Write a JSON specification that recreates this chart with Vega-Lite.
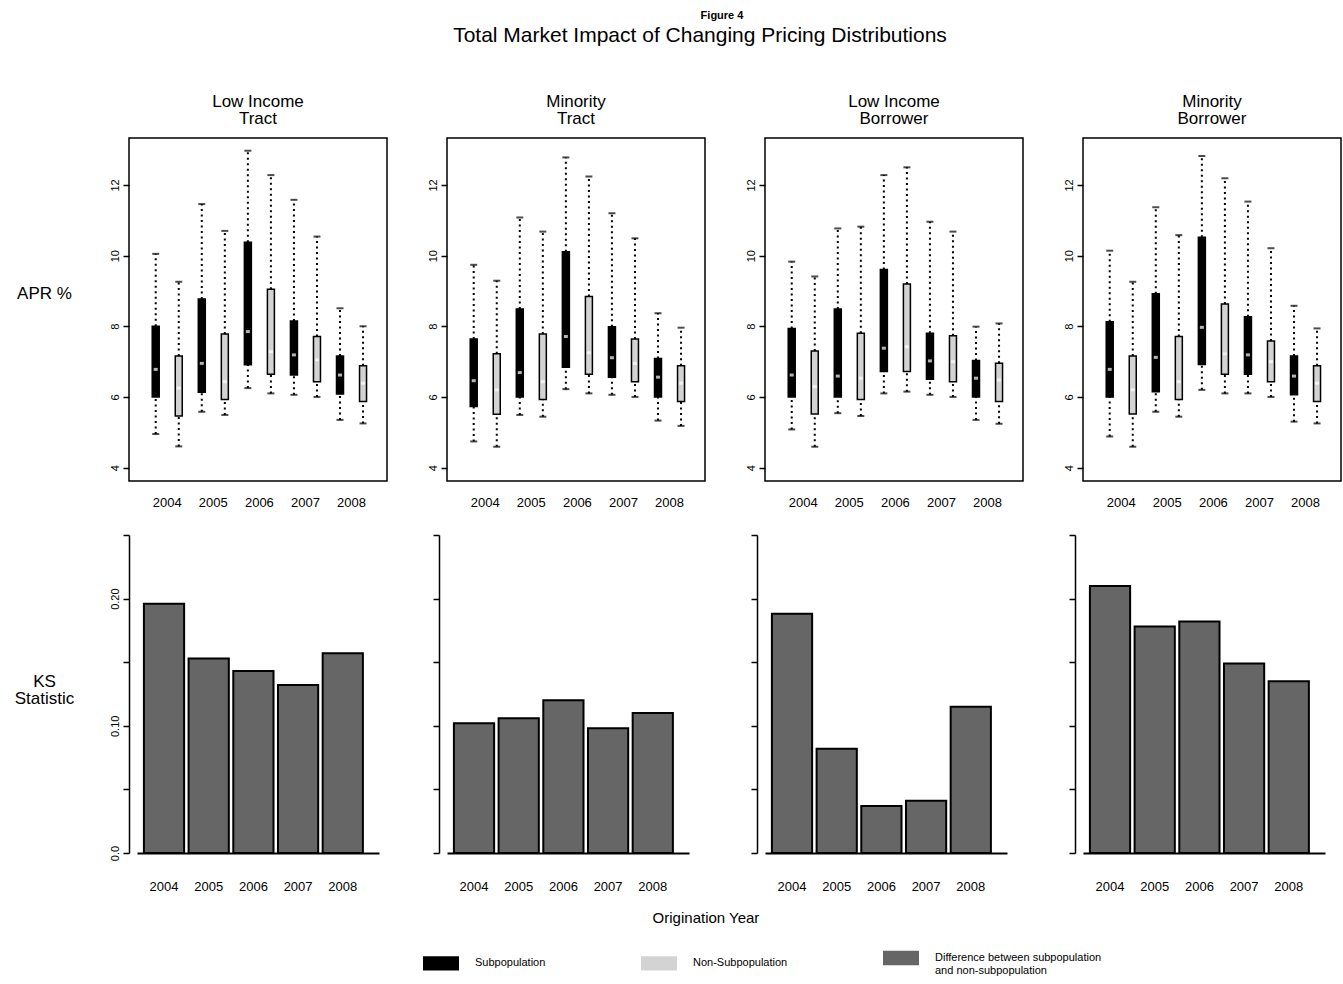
{
  "$schema": "https://vega.github.io/schema/vega-lite/v6.json",
  "autosize": {"type": "pad"},
  "padding": {"left": 14, "top": 10, "right": 2, "bottom": 2},
  "config": {
    "font": "Liberation Sans",
    "view": {"stroke": null},
    "axis": {"grid": false, "labelColor": "black", "titleColor": "black", "tickColor": "black", "domainColor": "black", "labelFont": "Liberation Sans", "titleFont": "Liberation Sans"},
    "title": {"color": "black", "font": "Liberation Sans", "fontWeight": "normal"},
    "legend": {"labelColor": "black", "labelFont": "Liberation Sans"}
  },
  "datasets": {
    "boxes": [
      {"panel": "Low Income Tract", "year": "2004", "group": "Subpopulation", "lower": 4.95, "q1": 6.0, "median": 6.78, "q3": 8.0, "upper": 10.05},
      {"panel": "Low Income Tract", "year": "2004", "group": "Non-Subpopulation", "lower": 4.6, "q1": 5.46, "median": 6.25, "q3": 7.16, "upper": 9.26},
      {"panel": "Low Income Tract", "year": "2005", "group": "Subpopulation", "lower": 5.58, "q1": 6.13, "median": 6.95, "q3": 8.77, "upper": 11.46},
      {"panel": "Low Income Tract", "year": "2005", "group": "Non-Subpopulation", "lower": 5.49, "q1": 5.93, "median": 6.43, "q3": 7.78, "upper": 10.7},
      {"panel": "Low Income Tract", "year": "2006", "group": "Subpopulation", "lower": 6.25, "q1": 6.91, "median": 7.85, "q3": 10.38, "upper": 12.97},
      {"panel": "Low Income Tract", "year": "2006", "group": "Non-Subpopulation", "lower": 6.1, "q1": 6.64, "median": 7.28, "q3": 9.05, "upper": 12.28},
      {"panel": "Low Income Tract", "year": "2007", "group": "Subpopulation", "lower": 6.06, "q1": 6.62, "median": 7.19, "q3": 8.15, "upper": 11.58},
      {"panel": "Low Income Tract", "year": "2007", "group": "Non-Subpopulation", "lower": 6.0, "q1": 6.43, "median": 7.05, "q3": 7.71, "upper": 10.54},
      {"panel": "Low Income Tract", "year": "2008", "group": "Subpopulation", "lower": 5.35, "q1": 6.08, "median": 6.62, "q3": 7.16, "upper": 8.51},
      {"panel": "Low Income Tract", "year": "2008", "group": "Non-Subpopulation", "lower": 5.25, "q1": 5.87, "median": 6.39, "q3": 6.88, "upper": 8.0},
      {"panel": "Minority Tract", "year": "2004", "group": "Subpopulation", "lower": 4.74, "q1": 5.73, "median": 6.46, "q3": 7.64, "upper": 9.74},
      {"panel": "Minority Tract", "year": "2004", "group": "Non-Subpopulation", "lower": 4.59, "q1": 5.51, "median": 6.2, "q3": 7.22, "upper": 9.29},
      {"panel": "Minority Tract", "year": "2005", "group": "Subpopulation", "lower": 5.49, "q1": 6.0, "median": 6.69, "q3": 8.49, "upper": 11.08},
      {"panel": "Minority Tract", "year": "2005", "group": "Non-Subpopulation", "lower": 5.44, "q1": 5.93, "median": 6.43, "q3": 7.78, "upper": 10.68},
      {"panel": "Minority Tract", "year": "2006", "group": "Subpopulation", "lower": 6.22, "q1": 6.84, "median": 7.71, "q3": 10.11, "upper": 12.78},
      {"panel": "Minority Tract", "year": "2006", "group": "Non-Subpopulation", "lower": 6.1, "q1": 6.64, "median": 7.25, "q3": 8.84, "upper": 12.24},
      {"panel": "Minority Tract", "year": "2007", "group": "Subpopulation", "lower": 6.06, "q1": 6.56, "median": 7.11, "q3": 7.99, "upper": 11.2},
      {"panel": "Minority Tract", "year": "2007", "group": "Non-Subpopulation", "lower": 6.0, "q1": 6.43, "median": 6.95, "q3": 7.64, "upper": 10.49},
      {"panel": "Minority Tract", "year": "2008", "group": "Subpopulation", "lower": 5.33, "q1": 6.0, "median": 6.56, "q3": 7.09, "upper": 8.37},
      {"panel": "Minority Tract", "year": "2008", "group": "Non-Subpopulation", "lower": 5.18, "q1": 5.87, "median": 6.39, "q3": 6.88, "upper": 7.96},
      {"panel": "Low Income Borrower", "year": "2004", "group": "Subpopulation", "lower": 5.08, "q1": 6.0, "median": 6.62, "q3": 7.94, "upper": 9.83},
      {"panel": "Low Income Borrower", "year": "2004", "group": "Non-Subpopulation", "lower": 4.59, "q1": 5.52, "median": 6.29, "q3": 7.3, "upper": 9.41},
      {"panel": "Low Income Borrower", "year": "2005", "group": "Subpopulation", "lower": 5.54, "q1": 6.0, "median": 6.59, "q3": 8.49, "upper": 10.77},
      {"panel": "Low Income Borrower", "year": "2005", "group": "Non-Subpopulation", "lower": 5.46, "q1": 5.93, "median": 6.53, "q3": 7.8, "upper": 10.82},
      {"panel": "Low Income Borrower", "year": "2006", "group": "Subpopulation", "lower": 6.1, "q1": 6.72, "median": 7.38, "q3": 9.61, "upper": 12.28},
      {"panel": "Low Income Borrower", "year": "2006", "group": "Non-Subpopulation", "lower": 6.15, "q1": 6.72, "median": 7.42, "q3": 9.2, "upper": 12.5},
      {"panel": "Low Income Borrower", "year": "2007", "group": "Subpopulation", "lower": 6.06, "q1": 6.5, "median": 7.02, "q3": 7.8, "upper": 10.96},
      {"panel": "Low Income Borrower", "year": "2007", "group": "Non-Subpopulation", "lower": 6.0, "q1": 6.43, "median": 7.0, "q3": 7.73, "upper": 10.68},
      {"panel": "Low Income Borrower", "year": "2008", "group": "Subpopulation", "lower": 5.35, "q1": 6.0, "median": 6.53, "q3": 7.03, "upper": 7.99},
      {"panel": "Low Income Borrower", "year": "2008", "group": "Non-Subpopulation", "lower": 5.24, "q1": 5.87, "median": 6.48, "q3": 6.95, "upper": 8.08},
      {"panel": "Minority Borrower", "year": "2004", "group": "Subpopulation", "lower": 4.88, "q1": 6.0, "median": 6.78, "q3": 8.13, "upper": 10.14},
      {"panel": "Minority Borrower", "year": "2004", "group": "Non-Subpopulation", "lower": 4.59, "q1": 5.52, "median": 6.2, "q3": 7.16, "upper": 9.26},
      {"panel": "Minority Borrower", "year": "2005", "group": "Subpopulation", "lower": 5.58, "q1": 6.15, "median": 7.12, "q3": 8.92, "upper": 11.37},
      {"panel": "Minority Borrower", "year": "2005", "group": "Non-Subpopulation", "lower": 5.44, "q1": 5.93, "median": 6.43, "q3": 7.71, "upper": 10.58},
      {"panel": "Minority Borrower", "year": "2006", "group": "Subpopulation", "lower": 6.2, "q1": 6.92, "median": 7.97, "q3": 10.52, "upper": 12.82},
      {"panel": "Minority Borrower", "year": "2006", "group": "Non-Subpopulation", "lower": 6.1, "q1": 6.64, "median": 7.22, "q3": 8.63, "upper": 12.19},
      {"panel": "Minority Borrower", "year": "2007", "group": "Subpopulation", "lower": 6.1, "q1": 6.64, "median": 7.19, "q3": 8.27, "upper": 11.53},
      {"panel": "Minority Borrower", "year": "2007", "group": "Non-Subpopulation", "lower": 6.0, "q1": 6.43, "median": 7.0, "q3": 7.58, "upper": 10.21},
      {"panel": "Minority Borrower", "year": "2008", "group": "Subpopulation", "lower": 5.3, "q1": 6.06, "median": 6.59, "q3": 7.16, "upper": 8.58},
      {"panel": "Minority Borrower", "year": "2008", "group": "Non-Subpopulation", "lower": 5.25, "q1": 5.87, "median": 6.39, "q3": 6.88, "upper": 7.94}
    ],
    "ks": [
      {"panel": "Low Income Tract", "year": "2004", "group": "Difference between subpopulation and non-subpopulation", "ks": 0.196},
      {"panel": "Low Income Tract", "year": "2005", "group": "Difference between subpopulation and non-subpopulation", "ks": 0.153},
      {"panel": "Low Income Tract", "year": "2006", "group": "Difference between subpopulation and non-subpopulation", "ks": 0.143},
      {"panel": "Low Income Tract", "year": "2007", "group": "Difference between subpopulation and non-subpopulation", "ks": 0.132},
      {"panel": "Low Income Tract", "year": "2008", "group": "Difference between subpopulation and non-subpopulation", "ks": 0.157},
      {"panel": "Minority Tract", "year": "2004", "group": "Difference between subpopulation and non-subpopulation", "ks": 0.102},
      {"panel": "Minority Tract", "year": "2005", "group": "Difference between subpopulation and non-subpopulation", "ks": 0.106},
      {"panel": "Minority Tract", "year": "2006", "group": "Difference between subpopulation and non-subpopulation", "ks": 0.120},
      {"panel": "Minority Tract", "year": "2007", "group": "Difference between subpopulation and non-subpopulation", "ks": 0.098},
      {"panel": "Minority Tract", "year": "2008", "group": "Difference between subpopulation and non-subpopulation", "ks": 0.110},
      {"panel": "Low Income Borrower", "year": "2004", "group": "Difference between subpopulation and non-subpopulation", "ks": 0.188},
      {"panel": "Low Income Borrower", "year": "2005", "group": "Difference between subpopulation and non-subpopulation", "ks": 0.082},
      {"panel": "Low Income Borrower", "year": "2006", "group": "Difference between subpopulation and non-subpopulation", "ks": 0.037},
      {"panel": "Low Income Borrower", "year": "2007", "group": "Difference between subpopulation and non-subpopulation", "ks": 0.041},
      {"panel": "Low Income Borrower", "year": "2008", "group": "Difference between subpopulation and non-subpopulation", "ks": 0.115},
      {"panel": "Minority Borrower", "year": "2004", "group": "Difference between subpopulation and non-subpopulation", "ks": 0.210},
      {"panel": "Minority Borrower", "year": "2005", "group": "Difference between subpopulation and non-subpopulation", "ks": 0.178},
      {"panel": "Minority Borrower", "year": "2006", "group": "Difference between subpopulation and non-subpopulation", "ks": 0.182},
      {"panel": "Minority Borrower", "year": "2007", "group": "Difference between subpopulation and non-subpopulation", "ks": 0.149},
      {"panel": "Minority Borrower", "year": "2008", "group": "Difference between subpopulation and non-subpopulation", "ks": 0.135}
    ]
  },
  "title": {"text": "Figure 4", "fontSize": 11, "fontWeight": "bold", "anchor": "middle", "offset": 4, "dx": 44},
  "vconcat": [
    {
      "title": {"text": "Total Market Impact of Changing Pricing Distributions", "fontSize": 21, "anchor": "middle", "offset": 46, "dx": 22},
      "vconcat": [
        {
          "title": {"text": "Origination Year", "orient": "bottom", "fontSize": 15, "anchor": "middle", "offset": 18, "dx": 28},
          "columns": 4,
          "spacing": {"row": 54, "column": 60},
          "bounds": "flush",
          "center": true,
          "concat": [
            {
              "width": 258, "height": 343,
              "view": {"stroke": "black", "strokeWidth": 1.5},
              "title": {"text": ["Low Income", "Tract"], "fontSize": 17, "lineHeight": 17, "offset": 10, "anchor": "middle"},
              "data": {"name": "boxes"},
              "transform": [{"filter": {"field": "panel", "equal": "Low Income Tract"}}],
              "encoding": {
                "x": {"field": "year", "type": "nominal", "title": null, "scale": {"paddingInner": 0, "paddingOuter": 0.3, "align": 0.55}, "axis": {"ticks": false, "tickSize": 0, "domain": false, "labelAngle": 0, "labelPadding": 15, "labelFontSize": 13, "labelBaseline": "top"}},
                "xOffset": {"field": "group", "type": "nominal", "scale": {"domain": ["Subpopulation", "Non-Subpopulation"], "paddingInner": 0, "paddingOuter": 0}}
              },
              "layer": [
                {"mark": {"type": "rule", "color": "black", "strokeWidth": 2, "strokeDash": [2, 3.5]}, "encoding": {"y": {"field": "lower", "type": "quantitative", "title": "APR %", "scale": {"domain": [3.62, 13.33], "nice": false, "zero": false}, "axis": {"values": [4, 6, 8, 10, 12], "labelAngle": -90, "labelAlign": "center", "labelBaseline": "bottom", "labelFontSize": 11, "labelPadding": 3, "domain": false, "tickSize": 6, "tickWidth": 1.5, "titleAngle": 0, "titleX": -85, "titleY": 155, "titleAlign": "center", "titleBaseline": "middle", "titleFontSize": 17, "titleFontWeight": "normal"}}, "y2": {"field": "q1"}}},
                {"mark": {"type": "rule", "color": "black", "strokeWidth": 2, "strokeDash": [2, 3.5]}, "encoding": {"y": {"field": "q3", "type": "quantitative", "title": "APR %", "scale": {"domain": [3.62, 13.33], "nice": false, "zero": false}}, "y2": {"field": "upper"}}},
                {"mark": {"type": "tick", "color": "black", "size": 7, "thickness": 2}, "encoding": {"y": {"field": "lower", "type": "quantitative", "title": "APR %", "scale": {"domain": [3.62, 13.33], "nice": false, "zero": false}}}},
                {"mark": {"type": "tick", "color": "black", "size": 7, "thickness": 2}, "encoding": {"y": {"field": "upper", "type": "quantitative", "title": "APR %", "scale": {"domain": [3.62, 13.33], "nice": false, "zero": false}}}},
                {"mark": {"type": "bar", "width": 7, "stroke": "black", "strokeWidth": 1.5}, "encoding": {"y": {"field": "q1", "type": "quantitative", "title": "APR %", "scale": {"domain": [3.62, 13.33], "nice": false, "zero": false}}, "y2": {"field": "q3"}, "color": {"field": "group", "type": "nominal", "scale": {"domain": ["Subpopulation", "Non-Subpopulation", "Difference between subpopulation and non-subpopulation"], "range": ["#000000", "#d3d3d3", "#666666"]}, "legend": {"orient": "none", "legendX": 294, "legendY": 802, "direction": "horizontal", "title": null, "symbolType": "M-1,-0.4L1,-0.4L1,0.4L-1,0.4Z", "symbolSize": 1296, "symbolStrokeWidth": 0, "symbolOpacity": 1, "labelFontSize": 11, "labelOffset": 16, "columnPadding": 95, "labelLimit": 400, "labelExpr": "datum.label == 'Difference between subpopulation and non-subpopulation' ? ['Difference between subpopulation', 'and non-subpopulation'] : datum.label"}}}},
                {"mark": {"type": "tick", "color": "white", "size": 4, "thickness": 3}, "encoding": {"y": {"field": "median", "type": "quantitative", "title": "APR %", "scale": {"domain": [3.62, 13.33], "nice": false, "zero": false}}}}
              ]
            },
            {
              "width": 258, "height": 343,
              "view": {"stroke": "black", "strokeWidth": 1.5},
              "title": {"text": ["Minority", "Tract"], "fontSize": 17, "lineHeight": 17, "offset": 10, "anchor": "middle"},
              "data": {"name": "boxes"},
              "transform": [{"filter": {"field": "panel", "equal": "Minority Tract"}}],
              "encoding": {
                "x": {"field": "year", "type": "nominal", "title": null, "scale": {"paddingInner": 0, "paddingOuter": 0.3, "align": 0.55}, "axis": {"ticks": false, "tickSize": 0, "domain": false, "labelAngle": 0, "labelPadding": 15, "labelFontSize": 13, "labelBaseline": "top"}},
                "xOffset": {"field": "group", "type": "nominal", "scale": {"domain": ["Subpopulation", "Non-Subpopulation"], "paddingInner": 0, "paddingOuter": 0}}
              },
              "layer": [
                {"mark": {"type": "rule", "color": "black", "strokeWidth": 2, "strokeDash": [2, 3.5]}, "encoding": {"y": {"field": "lower", "type": "quantitative", "title": null, "scale": {"domain": [3.62, 13.33], "nice": false, "zero": false}, "axis": {"values": [4, 6, 8, 10, 12], "labelAngle": -90, "labelAlign": "center", "labelBaseline": "bottom", "labelFontSize": 11, "labelPadding": 3, "domain": false, "tickSize": 6, "tickWidth": 1.5}}, "y2": {"field": "q1"}}},
                {"mark": {"type": "rule", "color": "black", "strokeWidth": 2, "strokeDash": [2, 3.5]}, "encoding": {"y": {"field": "q3", "type": "quantitative", "title": null, "scale": {"domain": [3.62, 13.33], "nice": false, "zero": false}}, "y2": {"field": "upper"}}},
                {"mark": {"type": "tick", "color": "black", "size": 7, "thickness": 2}, "encoding": {"y": {"field": "lower", "type": "quantitative", "title": null, "scale": {"domain": [3.62, 13.33], "nice": false, "zero": false}}}},
                {"mark": {"type": "tick", "color": "black", "size": 7, "thickness": 2}, "encoding": {"y": {"field": "upper", "type": "quantitative", "title": null, "scale": {"domain": [3.62, 13.33], "nice": false, "zero": false}}}},
                {"mark": {"type": "bar", "width": 7, "stroke": "black", "strokeWidth": 1.5}, "encoding": {"y": {"field": "q1", "type": "quantitative", "title": null, "scale": {"domain": [3.62, 13.33], "nice": false, "zero": false}}, "y2": {"field": "q3"}, "color": {"field": "group", "type": "nominal", "scale": {"domain": ["Subpopulation", "Non-Subpopulation", "Difference between subpopulation and non-subpopulation"], "range": ["#000000", "#d3d3d3", "#666666"]}}}},
                {"mark": {"type": "tick", "color": "white", "size": 4, "thickness": 3}, "encoding": {"y": {"field": "median", "type": "quantitative", "title": null, "scale": {"domain": [3.62, 13.33], "nice": false, "zero": false}}}}
              ]
            },
            {
              "width": 258, "height": 343,
              "view": {"stroke": "black", "strokeWidth": 1.5},
              "title": {"text": ["Low Income", "Borrower"], "fontSize": 17, "lineHeight": 17, "offset": 10, "anchor": "middle"},
              "data": {"name": "boxes"},
              "transform": [{"filter": {"field": "panel", "equal": "Low Income Borrower"}}],
              "encoding": {
                "x": {"field": "year", "type": "nominal", "title": null, "scale": {"paddingInner": 0, "paddingOuter": 0.3, "align": 0.55}, "axis": {"ticks": false, "tickSize": 0, "domain": false, "labelAngle": 0, "labelPadding": 15, "labelFontSize": 13, "labelBaseline": "top"}},
                "xOffset": {"field": "group", "type": "nominal", "scale": {"domain": ["Subpopulation", "Non-Subpopulation"], "paddingInner": 0, "paddingOuter": 0}}
              },
              "layer": [
                {"mark": {"type": "rule", "color": "black", "strokeWidth": 2, "strokeDash": [2, 3.5]}, "encoding": {"y": {"field": "lower", "type": "quantitative", "title": null, "scale": {"domain": [3.62, 13.33], "nice": false, "zero": false}, "axis": {"values": [4, 6, 8, 10, 12], "labelAngle": -90, "labelAlign": "center", "labelBaseline": "bottom", "labelFontSize": 11, "labelPadding": 3, "domain": false, "tickSize": 6, "tickWidth": 1.5}}, "y2": {"field": "q1"}}},
                {"mark": {"type": "rule", "color": "black", "strokeWidth": 2, "strokeDash": [2, 3.5]}, "encoding": {"y": {"field": "q3", "type": "quantitative", "title": null, "scale": {"domain": [3.62, 13.33], "nice": false, "zero": false}}, "y2": {"field": "upper"}}},
                {"mark": {"type": "tick", "color": "black", "size": 7, "thickness": 2}, "encoding": {"y": {"field": "lower", "type": "quantitative", "title": null, "scale": {"domain": [3.62, 13.33], "nice": false, "zero": false}}}},
                {"mark": {"type": "tick", "color": "black", "size": 7, "thickness": 2}, "encoding": {"y": {"field": "upper", "type": "quantitative", "title": null, "scale": {"domain": [3.62, 13.33], "nice": false, "zero": false}}}},
                {"mark": {"type": "bar", "width": 7, "stroke": "black", "strokeWidth": 1.5}, "encoding": {"y": {"field": "q1", "type": "quantitative", "title": null, "scale": {"domain": [3.62, 13.33], "nice": false, "zero": false}}, "y2": {"field": "q3"}, "color": {"field": "group", "type": "nominal", "scale": {"domain": ["Subpopulation", "Non-Subpopulation", "Difference between subpopulation and non-subpopulation"], "range": ["#000000", "#d3d3d3", "#666666"]}}}},
                {"mark": {"type": "tick", "color": "white", "size": 4, "thickness": 3}, "encoding": {"y": {"field": "median", "type": "quantitative", "title": null, "scale": {"domain": [3.62, 13.33], "nice": false, "zero": false}}}}
              ]
            },
            {
              "width": 258, "height": 343,
              "view": {"stroke": "black", "strokeWidth": 1.5},
              "title": {"text": ["Minority", "Borrower"], "fontSize": 17, "lineHeight": 17, "offset": 10, "anchor": "middle"},
              "data": {"name": "boxes"},
              "transform": [{"filter": {"field": "panel", "equal": "Minority Borrower"}}],
              "encoding": {
                "x": {"field": "year", "type": "nominal", "title": null, "scale": {"paddingInner": 0, "paddingOuter": 0.3, "align": 0.55}, "axis": {"ticks": false, "tickSize": 0, "domain": false, "labelAngle": 0, "labelPadding": 15, "labelFontSize": 13, "labelBaseline": "top"}},
                "xOffset": {"field": "group", "type": "nominal", "scale": {"domain": ["Subpopulation", "Non-Subpopulation"], "paddingInner": 0, "paddingOuter": 0}}
              },
              "layer": [
                {"mark": {"type": "rule", "color": "black", "strokeWidth": 2, "strokeDash": [2, 3.5]}, "encoding": {"y": {"field": "lower", "type": "quantitative", "title": null, "scale": {"domain": [3.62, 13.33], "nice": false, "zero": false}, "axis": {"values": [4, 6, 8, 10, 12], "labelAngle": -90, "labelAlign": "center", "labelBaseline": "bottom", "labelFontSize": 11, "labelPadding": 3, "domain": false, "tickSize": 6, "tickWidth": 1.5}}, "y2": {"field": "q1"}}},
                {"mark": {"type": "rule", "color": "black", "strokeWidth": 2, "strokeDash": [2, 3.5]}, "encoding": {"y": {"field": "q3", "type": "quantitative", "title": null, "scale": {"domain": [3.62, 13.33], "nice": false, "zero": false}}, "y2": {"field": "upper"}}},
                {"mark": {"type": "tick", "color": "black", "size": 7, "thickness": 2}, "encoding": {"y": {"field": "lower", "type": "quantitative", "title": null, "scale": {"domain": [3.62, 13.33], "nice": false, "zero": false}}}},
                {"mark": {"type": "tick", "color": "black", "size": 7, "thickness": 2}, "encoding": {"y": {"field": "upper", "type": "quantitative", "title": null, "scale": {"domain": [3.62, 13.33], "nice": false, "zero": false}}}},
                {"mark": {"type": "bar", "width": 7, "stroke": "black", "strokeWidth": 1.5}, "encoding": {"y": {"field": "q1", "type": "quantitative", "title": null, "scale": {"domain": [3.62, 13.33], "nice": false, "zero": false}}, "y2": {"field": "q3"}, "color": {"field": "group", "type": "nominal", "scale": {"domain": ["Subpopulation", "Non-Subpopulation", "Difference between subpopulation and non-subpopulation"], "range": ["#000000", "#d3d3d3", "#666666"]}}}},
                {"mark": {"type": "tick", "color": "white", "size": 4, "thickness": 3}, "encoding": {"y": {"field": "median", "type": "quantitative", "title": null, "scale": {"domain": [3.62, 13.33], "nice": false, "zero": false}}}}
              ]
            },
            {
              "width": 242, "height": 318,
              "view": {"stroke": null},
              "data": {"name": "ks"},
              "transform": [{"filter": {"field": "panel", "equal": "Low Income Tract"}}],
              "mark": {"type": "bar", "stroke": "black", "strokeWidth": 2},
              "encoding": {
                "x": {"field": "year", "type": "nominal", "title": null, "scale": {"paddingInner": 0.1, "paddingOuter": 0.2575, "align": 0.3}, "axis": {"ticks": false, "tickSize": 0, "domain": true, "domainWidth": 2, "labelAngle": 0, "labelPadding": 27, "labelFontSize": 13, "labelBaseline": "top"}},
                "y": {"field": "ks", "type": "quantitative", "title": ["KS", "Statistic"], "scale": {"domain": [0, 0.25], "nice": false}, "axis": {"values": [0, 0.05, 0.1, 0.15, 0.2, 0.25], "labelExpr": "datum.value == 0 ? '0.0' : datum.value == 0.1 ? '0.10' : datum.value == 0.2 ? '0.20' : ''", "offset": 8, "labelAngle": -90, "labelAlign": "center", "labelBaseline": "bottom", "labelFontSize": 11, "labelPadding": 3, "domain": true, "domainWidth": 1.5, "tickSize": 6, "tickWidth": 1.5, "titleAngle": 0, "titleX": -85, "titleY": 146, "titleAlign": "center", "titleBaseline": "middle", "titleFontSize": 17, "titleLineHeight": 17, "titleFontWeight": "normal"}},
                "color": {"field": "group", "type": "nominal", "scale": {"domain": ["Subpopulation", "Non-Subpopulation", "Difference between subpopulation and non-subpopulation"], "range": ["#000000", "#d3d3d3", "#666666"]}}
              }
            },
            {
              "width": 242, "height": 318,
              "view": {"stroke": null},
              "data": {"name": "ks"},
              "transform": [{"filter": {"field": "panel", "equal": "Minority Tract"}}],
              "mark": {"type": "bar", "stroke": "black", "strokeWidth": 2},
              "encoding": {
                "x": {"field": "year", "type": "nominal", "title": null, "scale": {"paddingInner": 0.1, "paddingOuter": 0.2575, "align": 0.3}, "axis": {"ticks": false, "tickSize": 0, "domain": true, "domainWidth": 2, "labelAngle": 0, "labelPadding": 27, "labelFontSize": 13, "labelBaseline": "top"}},
                "y": {"field": "ks", "type": "quantitative", "title": null, "scale": {"domain": [0, 0.25], "nice": false}, "axis": {"values": [0, 0.05, 0.1, 0.15, 0.2, 0.25], "labels": false, "offset": 8, "domain": true, "domainWidth": 1.5, "tickSize": 6, "tickWidth": 1.5}},
                "color": {"field": "group", "type": "nominal", "scale": {"domain": ["Subpopulation", "Non-Subpopulation", "Difference between subpopulation and non-subpopulation"], "range": ["#000000", "#d3d3d3", "#666666"]}}
              }
            },
            {
              "width": 242, "height": 318,
              "view": {"stroke": null},
              "data": {"name": "ks"},
              "transform": [{"filter": {"field": "panel", "equal": "Low Income Borrower"}}],
              "mark": {"type": "bar", "stroke": "black", "strokeWidth": 2},
              "encoding": {
                "x": {"field": "year", "type": "nominal", "title": null, "scale": {"paddingInner": 0.1, "paddingOuter": 0.2575, "align": 0.3}, "axis": {"ticks": false, "tickSize": 0, "domain": true, "domainWidth": 2, "labelAngle": 0, "labelPadding": 27, "labelFontSize": 13, "labelBaseline": "top"}},
                "y": {"field": "ks", "type": "quantitative", "title": null, "scale": {"domain": [0, 0.25], "nice": false}, "axis": {"values": [0, 0.05, 0.1, 0.15, 0.2, 0.25], "labels": false, "offset": 8, "domain": true, "domainWidth": 1.5, "tickSize": 6, "tickWidth": 1.5}},
                "color": {"field": "group", "type": "nominal", "scale": {"domain": ["Subpopulation", "Non-Subpopulation", "Difference between subpopulation and non-subpopulation"], "range": ["#000000", "#d3d3d3", "#666666"]}}
              }
            },
            {
              "width": 242, "height": 318,
              "view": {"stroke": null},
              "data": {"name": "ks"},
              "transform": [{"filter": {"field": "panel", "equal": "Minority Borrower"}}],
              "mark": {"type": "bar", "stroke": "black", "strokeWidth": 2},
              "encoding": {
                "x": {"field": "year", "type": "nominal", "title": null, "scale": {"paddingInner": 0.1, "paddingOuter": 0.2575, "align": 0.3}, "axis": {"ticks": false, "tickSize": 0, "domain": true, "domainWidth": 2, "labelAngle": 0, "labelPadding": 27, "labelFontSize": 13, "labelBaseline": "top"}},
                "y": {"field": "ks", "type": "quantitative", "title": null, "scale": {"domain": [0, 0.25], "nice": false}, "axis": {"values": [0, 0.05, 0.1, 0.15, 0.2, 0.25], "labels": false, "offset": 8, "domain": true, "domainWidth": 1.5, "tickSize": 6, "tickWidth": 1.5}},
                "color": {"field": "group", "type": "nominal", "scale": {"domain": ["Subpopulation", "Non-Subpopulation", "Difference between subpopulation and non-subpopulation"], "range": ["#000000", "#d3d3d3", "#666666"]}}
              }
            }
          ]
        }
      ]
    }
  ]
}
